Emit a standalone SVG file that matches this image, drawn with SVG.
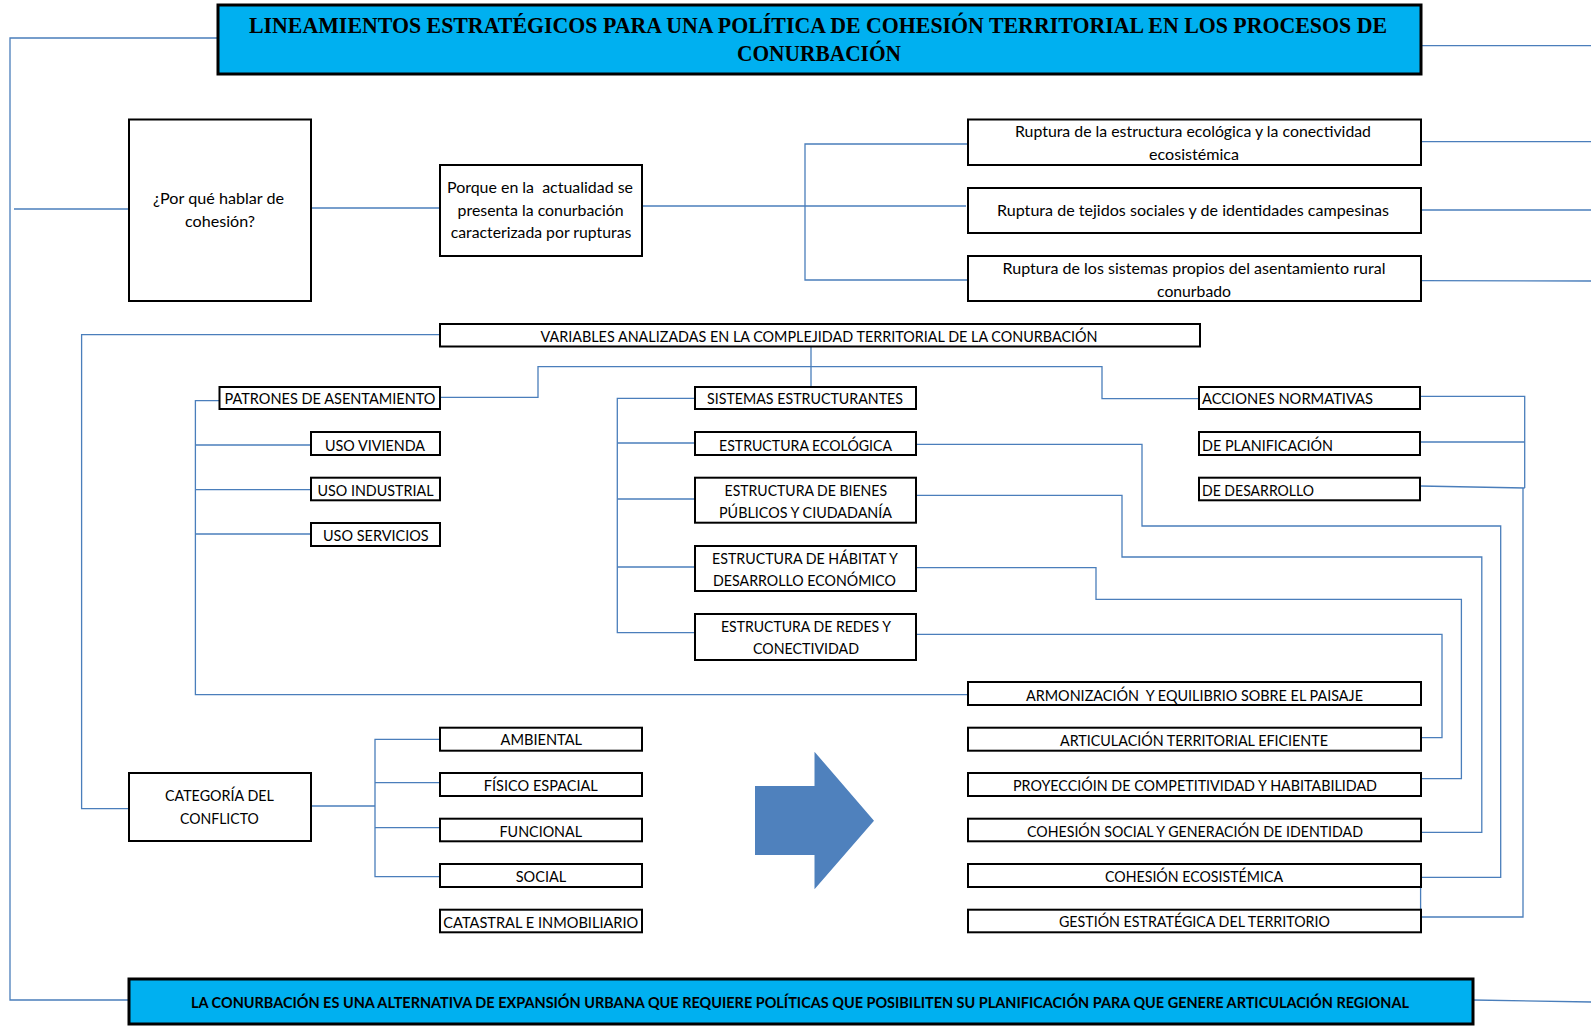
<svg xmlns="http://www.w3.org/2000/svg" width="1591" height="1026" viewBox="0 0 1591 1026">
<style>
.box{fill:#fff;stroke:#000;stroke-width:2}
.banner{fill:#00B0F0;stroke:#000;stroke-width:3}
.t{font-family:Lato,"Open Sans","Liberation Sans",sans-serif;font-size:16px;fill:#000}
.c{text-anchor:middle}
.pre{white-space:pre}
.ttl{font-family:"Liberation Serif","Times New Roman",serif;font-size:22.5px;font-weight:bold;fill:#000;text-anchor:middle}
.bt{font-family:Lato,"Open Sans","Liberation Sans",sans-serif;font-size:16px;font-weight:bold;fill:#000;text-anchor:middle}
.conn{fill:none;stroke:#4A7EBB;stroke-width:1.3}
</style>
<rect width="1591" height="1026" fill="#fff"/>
<g id="connectors">
<polyline class="conn" points="218,38 10,38 10,1000 129,1000"/>
<polyline class="conn" points="14,209 129,209"/>
<polyline class="conn" points="311,208 440,208"/>
<polyline class="conn" points="642,206 966,206"/>
<polyline class="conn" points="968,144 805,144 805,280 968,280"/>
<polyline class="conn" points="1421,45.7 1591,45.7"/>
<polyline class="conn" points="1421,141.7 1591,141.7"/>
<polyline class="conn" points="1421,210 1591,210"/>
<polyline class="conn" points="1421,280.7 1591,281"/>
<polyline class="conn" points="440,334.7 81.6,334.7 81.6,808.7 129,808.7"/>
<polyline class="conn" points="811,346.7 811,387"/>
<polyline class="conn" points="440,397.3 538,397.3 538,366.7 1102,366.7 1102,398.7 1199,398.7"/>
<polyline class="conn" points="219.5,400.7 195.4,400.7 195.4,694.7 968,694.7"/>
<polyline class="conn" points="195.4,445 311,445"/>
<polyline class="conn" points="195.4,489.7 311,489.7"/>
<polyline class="conn" points="195.4,534 311,534"/>
<polyline class="conn" points="695,398.3 617.3,398.3 617.3,632.7 695,632.7"/>
<polyline class="conn" points="617.3,443 695,443"/>
<polyline class="conn" points="617.3,499 695,499"/>
<polyline class="conn" points="617.3,567 695,567"/>
<polyline class="conn" points="1420,396.3 1524.7,396.3 1524.7,488"/>
<polyline class="conn" points="1420,442 1524.7,442"/>
<polyline class="conn" points="1420,486 1524.7,488"/>
<polyline class="conn" points="1523,488 1523,917 1421,917"/>
<polyline class="conn" points="916,444.3 1142,444.3 1142,526 1500.7,526 1500.7,877.3 1421,877.3"/>
<polyline class="conn" points="1420.6,877.3 1420.6,917"/>
<polyline class="conn" points="916,495.3 1122,495.3 1122,557 1481.8,557 1481.8,832.3 1419,832.3"/>
<polyline class="conn" points="916,567.7 1096,567.7 1096,599.3 1461.4,599.3 1461.4,778.7 1421,778.7"/>
<polyline class="conn" points="916,634.3 1442,634.3 1442,737.7 1421,737.7"/>
<polyline class="conn" points="311,806 375,806"/>
<polyline class="conn" points="440,739.3 375,739.3 375,876.7 440,876.7"/>
<polyline class="conn" points="375,782.7 440,782.7"/>
<polyline class="conn" points="375,827.7 440,827.7"/>
<polyline class="conn" points="1473,1000 1591,1002"/>
</g>
<g id="title">
<rect class="banner" x="218" y="5" width="1203" height="69"/>
<text class="ttl" x="818" y="33.3" textLength="1138" lengthAdjust="spacingAndGlyphs">LINEAMIENTOS ESTRATÉGICOS PARA UNA POLÍTICA DE COHESIÓN TERRITORIAL EN LOS PROCESOS DE</text>
<text class="ttl" x="819" y="61" textLength="164" lengthAdjust="spacingAndGlyphs">CONURBACIÓN</text>
</g>
<g id="por-que">
<rect class="box" x="129" y="119.5" width="182" height="181.5"/>
<text class="t c" x="218.6" y="204" textLength="131" lengthAdjust="spacingAndGlyphs">¿Por qué hablar de</text>
<text class="t c" x="220" y="226.7" textLength="70" lengthAdjust="spacingAndGlyphs">cohesión?</text>
</g>
<g id="porque">
<rect class="box" x="440" y="165" width="202" height="91"/>
<text class="t c pre" x="540" y="193.3" textLength="186" lengthAdjust="spacingAndGlyphs">Porque en la  actualidad se</text>
<text class="t c" x="540.6" y="216" textLength="166" lengthAdjust="spacingAndGlyphs">presenta la conurbación</text>
<text class="t c" x="541" y="238.3" textLength="180.6" lengthAdjust="spacingAndGlyphs">caracterizada por rupturas</text>
</g>
<g id="ruptura1">
<rect class="box" x="968" y="119.5" width="453" height="45.5"/>
<text class="t c" x="1193" y="137.3" textLength="356" lengthAdjust="spacingAndGlyphs">Ruptura de la estructura ecológica y la conectividad</text>
<text class="t c" x="1194" y="160" textLength="90" lengthAdjust="spacingAndGlyphs">ecosistémica</text>
</g>
<g id="ruptura2">
<rect class="box" x="968" y="188" width="453" height="45"/>
<text class="t c" x="1193" y="216" textLength="392" lengthAdjust="spacingAndGlyphs">Ruptura de tejidos sociales y de identidades campesinas</text>
</g>
<g id="ruptura3">
<rect class="box" x="968" y="256" width="453" height="45"/>
<text class="t c" x="1194" y="274" textLength="383" lengthAdjust="spacingAndGlyphs">Ruptura de los sistemas propios del asentamiento rural</text>
<text class="t c" x="1194" y="296.7" textLength="74" lengthAdjust="spacingAndGlyphs">conurbado</text>
</g>
<g id="variables">
<rect class="box" x="440" y="324" width="760" height="22.5"/>
<text class="t c" x="819" y="342" textLength="557" lengthAdjust="spacingAndGlyphs">VARIABLES ANALIZADAS EN LA COMPLEJIDAD TERRITORIAL DE LA CONURBACIÓN</text>
</g>
<g id="patrones">
<rect class="box" x="219.5" y="387" width="220.5" height="22"/>
<text class="t c" x="330" y="404" textLength="211" lengthAdjust="spacingAndGlyphs">PATRONES DE ASENTAMIENTO</text>
</g>
<g id="uso-vivienda">
<rect class="box" x="311" y="432" width="129" height="23"/>
<text class="t c" x="375" y="450.5" textLength="100" lengthAdjust="spacingAndGlyphs">USO VIVIENDA</text>
</g>
<g id="uso-industrial">
<rect class="box" x="311" y="477.7" width="129" height="22.6"/>
<text class="t c" x="375.5" y="495.5" textLength="116" lengthAdjust="spacingAndGlyphs">USO INDUSTRIAL</text>
</g>
<g id="uso-servicios">
<rect class="box" x="311" y="523" width="129" height="23"/>
<text class="t c" x="375.8" y="541" textLength="105.6" lengthAdjust="spacingAndGlyphs">USO SERVICIOS</text>
</g>
<g id="sistemas">
<rect class="box" x="695" y="387" width="221" height="22"/>
<text class="t c" x="805" y="404" textLength="196" lengthAdjust="spacingAndGlyphs">SISTEMAS ESTRUCTURANTES</text>
</g>
<g id="ecologica">
<rect class="box" x="695" y="432" width="221" height="23"/>
<text class="t c" x="805.5" y="450.5" textLength="173" lengthAdjust="spacingAndGlyphs">ESTRUCTURA ECOLÓGICA</text>
</g>
<g id="bienes">
<rect class="box" x="695" y="477.7" width="221" height="45"/>
<text class="t c" x="805.8" y="495.5" textLength="162.5" lengthAdjust="spacingAndGlyphs">ESTRUCTURA DE BIENES</text>
<text class="t c" x="805.5" y="517.7" textLength="173" lengthAdjust="spacingAndGlyphs">PÚBLICOS Y CIUDADANÍA</text>
</g>
<g id="habitat">
<rect class="box" x="695" y="546" width="221" height="45"/>
<text class="t c" x="805" y="564" textLength="186" lengthAdjust="spacingAndGlyphs">ESTRUCTURA DE HÁBITAT Y</text>
<text class="t c" x="804.5" y="586" textLength="183" lengthAdjust="spacingAndGlyphs">DESARROLLO ECONÓMICO</text>
</g>
<g id="redes">
<rect class="box" x="695" y="614" width="221" height="46"/>
<text class="t c" x="806" y="632" textLength="170" lengthAdjust="spacingAndGlyphs">ESTRUCTURA DE REDES Y</text>
<text class="t c" x="806" y="654" textLength="106" lengthAdjust="spacingAndGlyphs">CONECTIVIDAD</text>
</g>
<g id="acciones">
<rect class="box" x="1199" y="387" width="221" height="22"/>
<text class="t" x="1202" y="404" textLength="171" lengthAdjust="spacingAndGlyphs">ACCIONES NORMATIVAS</text>
</g>
<g id="planificacion">
<rect class="box" x="1199" y="432" width="221" height="23"/>
<text class="t" x="1202" y="450.5" textLength="131" lengthAdjust="spacingAndGlyphs">DE PLANIFICACIÓN</text>
</g>
<g id="desarrollo">
<rect class="box" x="1199" y="477.7" width="221" height="22.6"/>
<text class="t" x="1202" y="495.5" textLength="112" lengthAdjust="spacingAndGlyphs">DE DESARROLLO</text>
</g>
<g id="armonizacion">
<rect class="box" x="968" y="682" width="453" height="23"/>
<text class="t c pre" x="1194.5" y="700.5" textLength="337" lengthAdjust="spacingAndGlyphs">ARMONIZACIÓN  Y EQUILIBRIO SOBRE EL PAISAJE</text>
</g>
<g id="articulacion">
<rect class="box" x="968" y="727.7" width="453" height="23"/>
<text class="t c" x="1194" y="745.5" textLength="268" lengthAdjust="spacingAndGlyphs">ARTICULACIÓN TERRITORIAL EFICIENTE</text>
</g>
<g id="proyeccion">
<rect class="box" x="968" y="773" width="453" height="23"/>
<text class="t c" x="1195" y="791.3" textLength="364" lengthAdjust="spacingAndGlyphs">PROYECCIÓIN DE COMPETITIVIDAD Y HABITABILIDAD</text>
</g>
<g id="cohesion-social">
<rect class="box" x="968" y="818.7" width="453" height="22.6"/>
<text class="t c" x="1195" y="836.7" textLength="336" lengthAdjust="spacingAndGlyphs">COHESIÓN SOCIAL Y GENERACIÓN DE IDENTIDAD</text>
</g>
<g id="cohesion-eco">
<rect class="box" x="968" y="864" width="453" height="23"/>
<text class="t c" x="1194" y="882.3" textLength="178" lengthAdjust="spacingAndGlyphs">COHESIÓN ECOSISTÉMICA</text>
</g>
<g id="gestion">
<rect class="box" x="968" y="909.7" width="453" height="22.6"/>
<text class="t c" x="1194.4" y="927.3" textLength="271" lengthAdjust="spacingAndGlyphs">GESTIÓN ESTRATÉGICA DEL TERRITORIO</text>
</g>
<g id="categoria">
<rect class="box" x="129" y="773" width="182" height="68"/>
<text class="t c" x="219.4" y="801.3" textLength="109" lengthAdjust="spacingAndGlyphs">CATEGORÍA DEL</text>
<text class="t c" x="219.4" y="824.3" textLength="78.6" lengthAdjust="spacingAndGlyphs">CONFLICTO</text>
</g>
<g id="ambiental">
<rect class="box" x="440" y="727.7" width="202" height="23"/>
<text class="t c" x="541.3" y="745.3" textLength="81.6" lengthAdjust="spacingAndGlyphs">AMBIENTAL</text>
</g>
<g id="fisico">
<rect class="box" x="440" y="773" width="202" height="23"/>
<text class="t c" x="540.8" y="791.3" textLength="114" lengthAdjust="spacingAndGlyphs">FÍSICO ESPACIAL</text>
</g>
<g id="funcional">
<rect class="box" x="440" y="818.7" width="202" height="22.6"/>
<text class="t c" x="540.8" y="836.7" textLength="82.6" lengthAdjust="spacingAndGlyphs">FUNCIONAL</text>
</g>
<g id="social">
<rect class="box" x="440" y="864" width="202" height="23"/>
<text class="t c" x="541" y="882.3" textLength="50.5" lengthAdjust="spacingAndGlyphs">SOCIAL</text>
</g>
<g id="catastral">
<rect class="box" x="440" y="909.7" width="202" height="22.6"/>
<text class="t c" x="540.8" y="927.7" textLength="195" lengthAdjust="spacingAndGlyphs">CATASTRAL E INMOBILIARIO</text>
</g>
<g id="arrow">
<polygon points="755,786 814.5,786 814.5,751.7 874,820.7 814.5,889.3 814.5,855 755,855" fill="#4F81BD"/>
</g>
<g id="conclusion">
<rect class="banner" x="129" y="979" width="1344" height="45"/>
<text class="bt" x="800" y="1008.3" textLength="1218" lengthAdjust="spacingAndGlyphs">LA CONURBACIÓN ES UNA ALTERNATIVA DE EXPANSIÓN URBANA QUE REQUIERE POLÍTICAS QUE POSIBILITEN SU PLANIFICACIÓN PARA QUE GENERE ARTICULACIÓN REGIONAL</text>
</g>
</svg>
